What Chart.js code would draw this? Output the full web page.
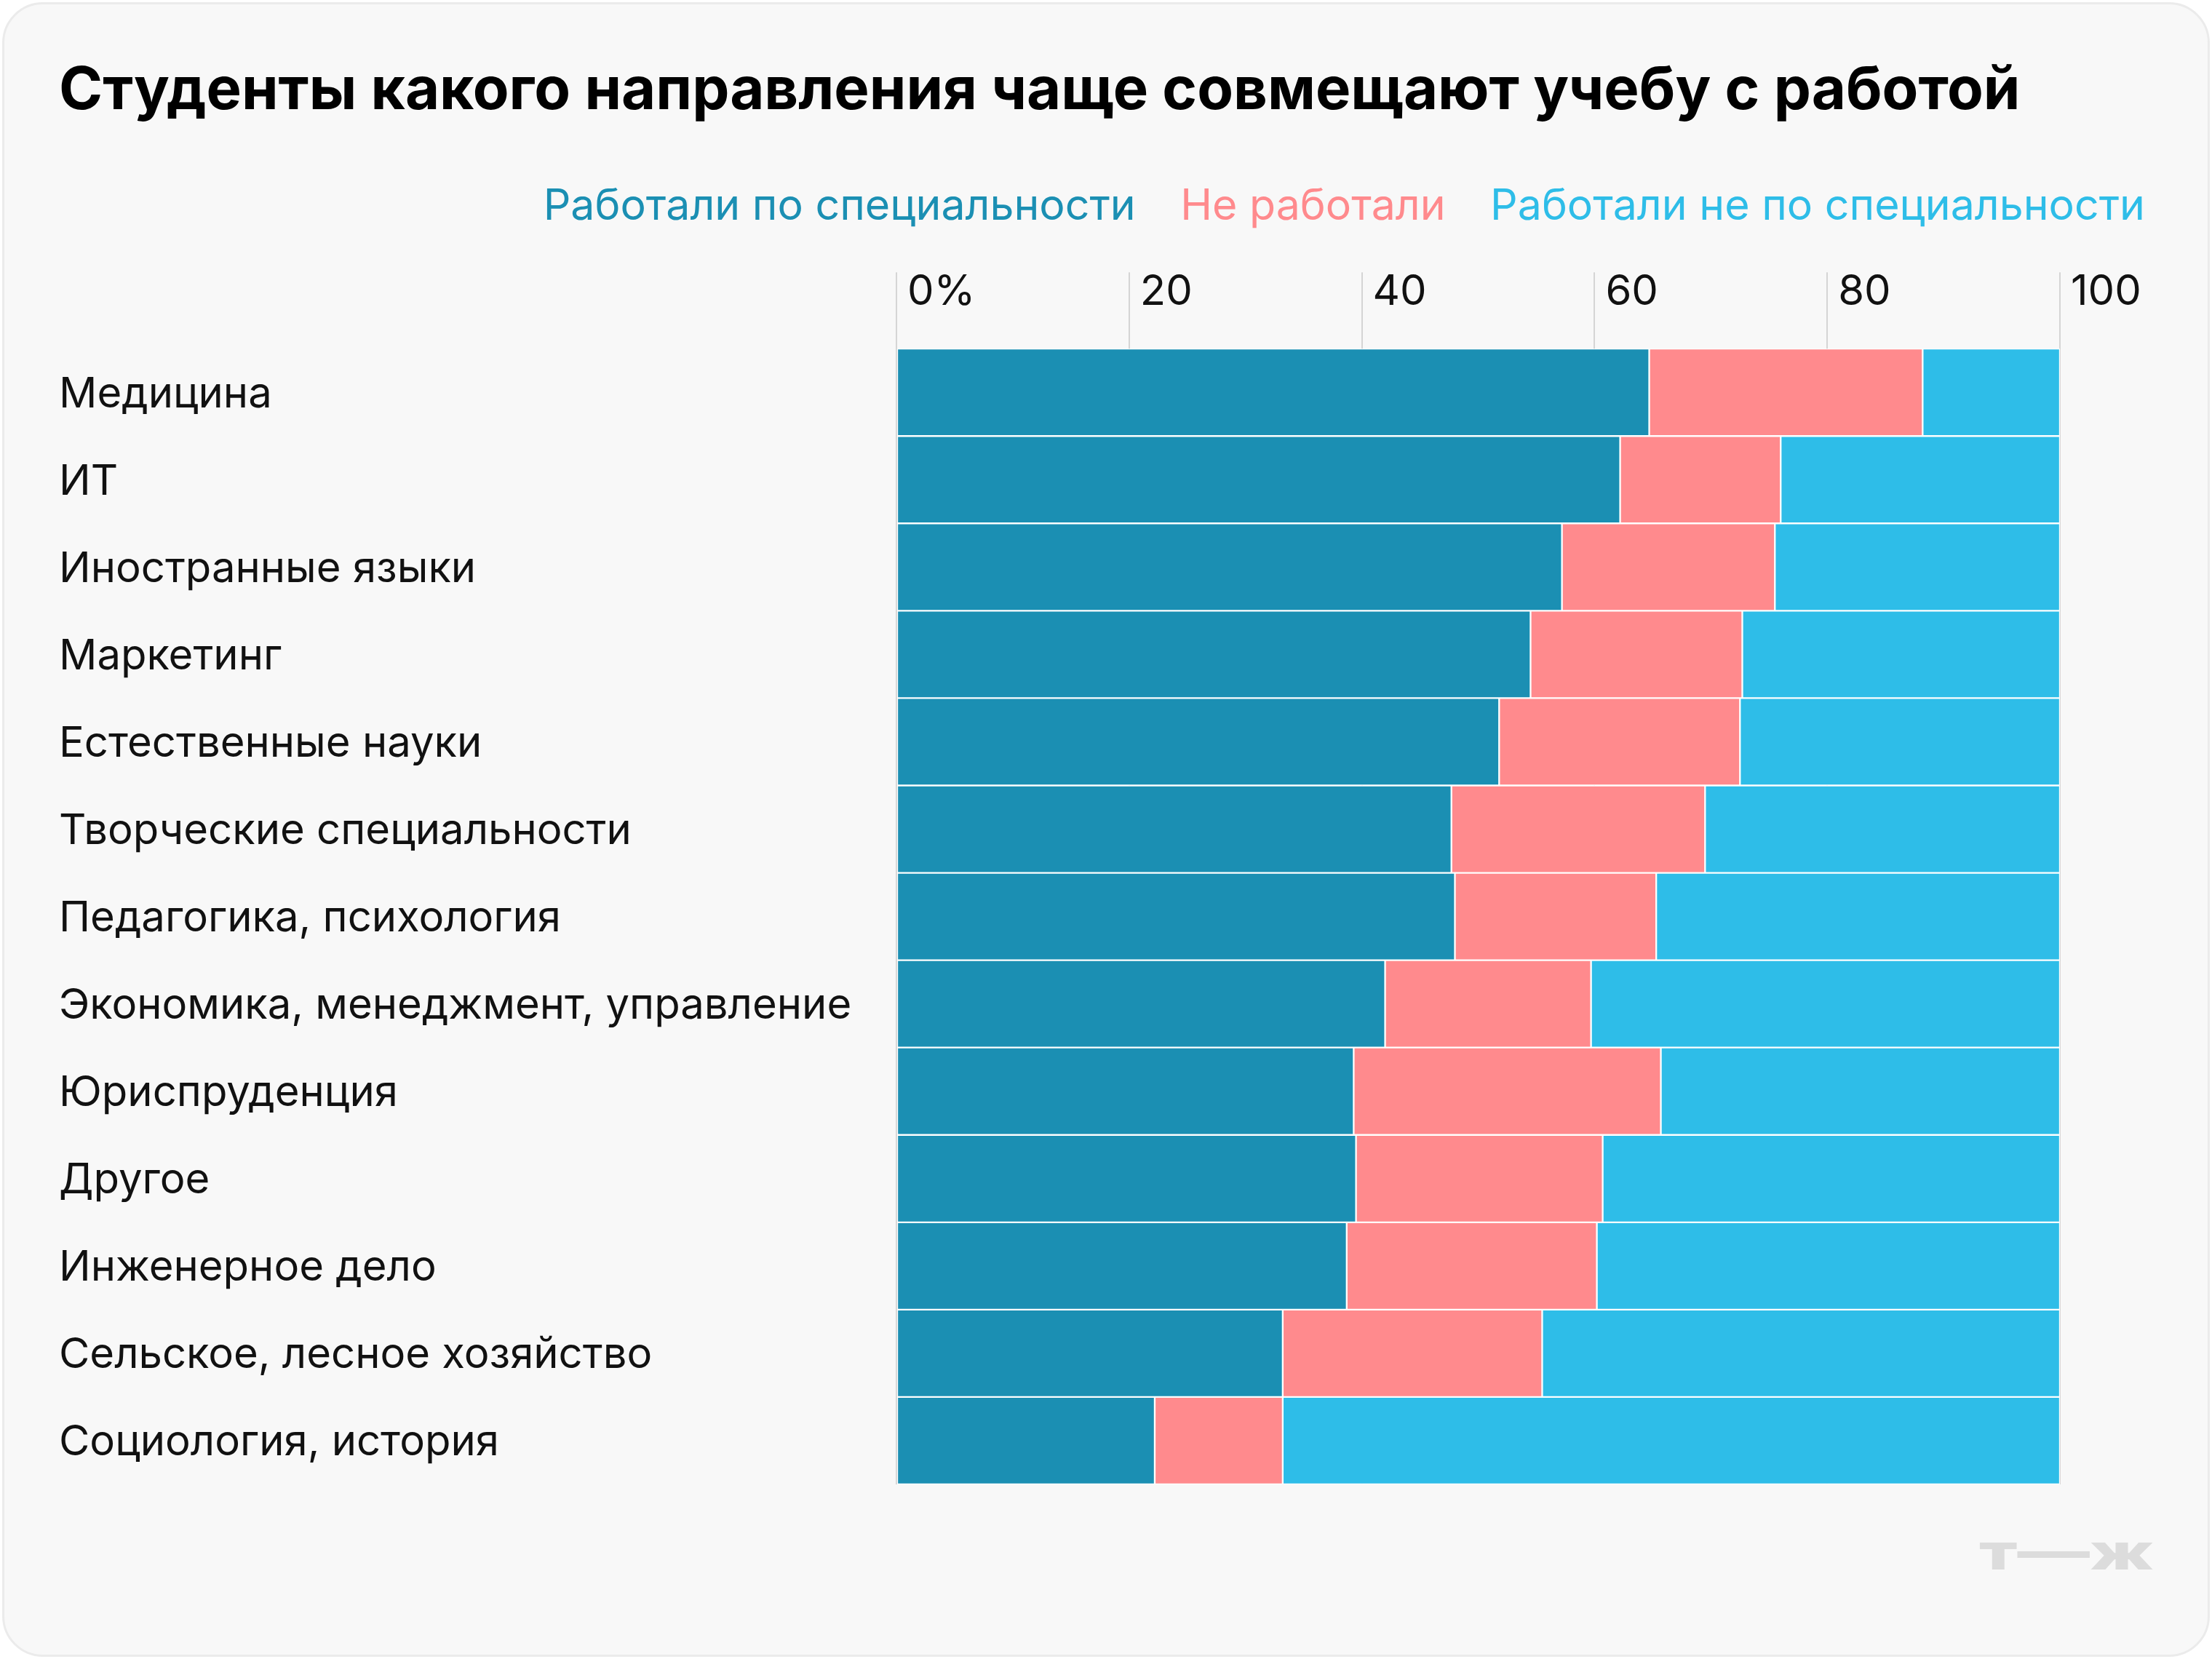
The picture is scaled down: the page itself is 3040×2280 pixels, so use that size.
<!DOCTYPE html>
<html lang="ru">
<head>
<meta charset="utf-8">
<title>Студенты какого направления чаще совмещают учебу с работой</title>
<script src="https://cdn.jsdelivr.net/npm/chart.js@4.4.1/dist/chart.umd.min.js"></script>
<style>
    html, body { margin: 0; padding: 0; background: #ffffff; }
    #card {
        position: absolute; left: 3px; top: 3px;
        width: 3034px; height: 2274px; box-sizing: border-box;
        border: 3px solid #ebebeb; border-radius: 56px; background: #f8f8f8;
    }
    #chart { position: absolute; left: 0; top: 0; }
</style>
</head>
<body>
<div id="card"></div>
<canvas id="chart" width="3040" height="2280"></canvas>
<script>
// Категории (сверху вниз)
const categories = [
    'Медицина',
    'ИТ',
    'Иностранные языки',
    'Маркетинг',
    'Естественные науки',
    'Творческие специальности',
    'Педагогика, психология',
    'Экономика, менеджмент, управление',
    'Юриспруденция',
    'Другое',
    'Инженерное дело',
    'Сельское, лесное хозяйство',
    'Социология, история'
];

// Доли, %
const inSpecialty      = [64.7, 62.2, 57.2, 54.5, 51.8, 47.7, 48.0, 42.0, 39.3, 39.5, 38.7, 33.2, 22.2];
const notWorked        = [23.5, 13.8, 18.3, 18.2, 20.7, 21.8, 17.3, 17.7, 26.4, 21.2, 21.5, 22.3, 11.0];
const outsideSpecialty = [11.8, 24.0, 24.5, 27.3, 27.5, 30.5, 34.7, 40.3, 34.3, 39.3, 39.8, 44.5, 66.8];

const seriesNames  = ['Работали по специальности', 'Не работали', 'Работали не по специальности'];
const seriesColors = ['#1b8fb3', '#ff8a8d', '#2ebde8'];
const xTickStep = 20;

Chart.defaults.font.family = 'Inter, "Noto Sans", sans-serif';
Chart.defaults.color = '#111111';

// Логотип в правом нижнем углу
const watermark = {
    id: 'watermark',
    afterDraw(chart) {
        const ctx = chart.ctx;
        ctx.save();
        ctx.font = '800 68px Inter, sans-serif';
        ctx.fillStyle = '#dcdcdc';
        ctx.textBaseline = 'alphabetic';
        const text = 'т—ж';
        const w = ctx.measureText(text).width;
        ctx.translate(2720, 2157);
        ctx.scale(240 / w, 1);
        ctx.fillText(text, 0, 0);
        ctx.restore();
    }
};

const datasets = [inSpecialty, notWorked, outsideSpecialty].map((values, i) => ({
    label: seriesNames[i],
    data: values,
    backgroundColor: seriesColors[i],
    borderColor: '#ffffff',
    borderWidth: 1.5,
    borderSkipped: false,
    barPercentage: 1,
    categoryPercentage: 1
}));

new Chart(document.getElementById('chart'), {
    type: 'bar',
    data: { labels: categories, datasets: datasets },
    plugins: [watermark],
    options: {
        indexAxis: 'y',
        responsive: false,
        animation: false,
        devicePixelRatio: 1,
        layout: { padding: { left: 81, right: 60, top: 0, bottom: 240 } },
        plugins: {
            title: {
                display: true,
                text: 'Студенты какого направления чаще совмещают учебу с работой',
                align: 'start',
                color: '#000000',
                font: { size: 81.3, weight: 700, lineHeight: 1.2 },
                padding: { top: 77, bottom: 48 }
            },
            legend: {
                display: true,
                align: 'end',
                labels: {
                    boxWidth: 0,
                    padding: 32,
                    font: { size: 59 },
                    generateLabels: chart => chart.data.datasets.map((ds, i) => ({
                        text: ds.label,
                        fontColor: seriesColors[i],
                        fillStyle: 'rgba(0,0,0,0)',
                        strokeStyle: 'rgba(0,0,0,0)',
                        lineWidth: 0,
                        hidden: false,
                        datasetIndex: i
                    }))
                }
            },
            tooltip: { enabled: false }
        },
        scales: {
            x: {
                position: 'top',
                stacked: true,
                min: 0,
                max: 100,
                z: 1,
                border: { display: false },
                grid: {
                    color: 'rgba(150,150,150,0.35)',
                    lineWidth: 2,
                    drawTicks: true,
                    tickLength: 105
                },
                title: { display: true, text: '', font: { size: 10, lineHeight: 1.2 }, padding: { top: 93, bottom: 0 } },
                ticks: {
                    stepSize: xTickStep,
                    align: 'start',
                    labelOffset: 15,
                    padding: -62,
                    color: '#111111',
                    font: { size: 58, lineHeight: 1.2 },
                    callback: v => v === 0 ? '0%' : String(v)
                }
            },
            y: {
                stacked: true,
                grid: { display: false },
                border: { display: false },
                ticks: {
                    crossAlign: 'far',
                    padding: 0,
                    labelOffset: 3,
                    color: '#111111',
                    font: { size: 58 }
                },
                afterFit: s => { s.width = 1151; }
            },
            yRight: {
                type: 'linear',
                position: 'right',
                display: true,
                grid: { display: false },
                border: { display: false },
                ticks: { display: false },
                afterFit: s => { s.width = 149; }
            }
        }
    }
});
</script>
</body>
</html>
